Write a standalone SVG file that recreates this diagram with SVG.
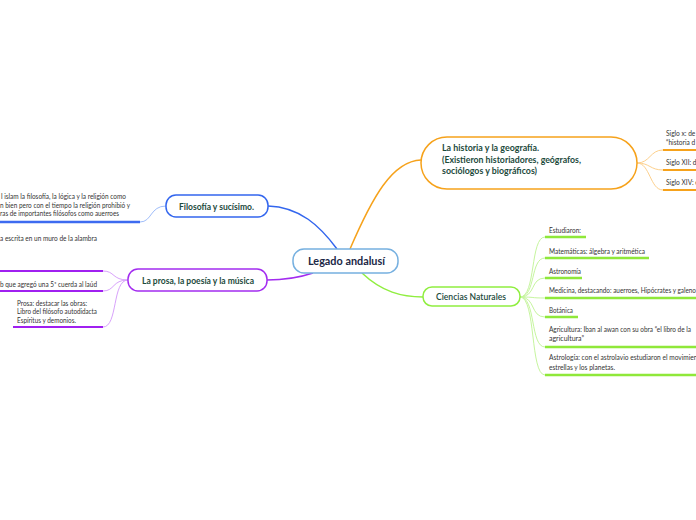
<svg xmlns="http://www.w3.org/2000/svg" width="696" height="520" viewBox="0 0 696 520">
<style>
text{font-family:Lato,"Noto Sans","DejaVu Sans",sans-serif}
.n{fill:#fff;stroke-width:1.5}
.t{font-size:10px;font-weight:700;fill:#1c4a3c}
.s{font-size:6.6px;fill:#333}
</style>
<rect width="696" height="520" fill="#fff"/>
<g id="connectors" fill="none">
<path d="M337,249 C320,226 300,207 268,206" stroke="#3366ee" stroke-width="1.5"/>
<path d="M350,249 C372,198 392,161 421,160" stroke="#f6a21b" stroke-width="1.5"/>
<path d="M313,273 C298,278 285,280 267,280" stroke="#a32cf0" stroke-width="1.5"/>
<path d="M362,273 C382,292 402,297 423,297" stroke="#90ee40" stroke-width="1.5"/>
<path d="M166,206 C150,206 152,222 140,222" stroke="#9fbdfa" stroke-width="1"/>
<path d="M0,222 H140" stroke="#3d6bf0" stroke-width="2.5"/>
<path d="M128,280 C112,280 115,271 103,271" stroke="#d8a2fb" stroke-width="1"/>
<path d="M128,280 C112,280 115,291 103,291" stroke="#d8a2fb" stroke-width="1"/>
<path d="M128,280 C112,280 118,327 103,327" stroke="#d8a2fb" stroke-width="1"/>
<path d="M0,271 H103 M0,291 H103 M13,327 H103" stroke="#a020f0" stroke-width="2"/>
<path d="M637,163 C650,163 650,150 663,150 M637,163 C650,163 650,170 663,170 M637,163 C650,163 650,190 663,190" stroke="#fdd08c" stroke-width="1"/>
<path d="M663,150 H696 M663,170 H696 M663,190 H696" stroke="#f6a21b" stroke-width="2"/>
<g stroke="#c6f59e" stroke-width="1">
<path d="M520,297 C536,297 530,237 545,237"/>
<path d="M520,297 C536,297 530,258 545,258"/>
<path d="M520,297 C536,297 530,278 545,278"/>
<path d="M520,297 C536,297 530,298 545,298"/>
<path d="M520,297 C536,297 530,317 545,317"/>
<path d="M520,297 C536,297 530,347 545,347"/>
<path d="M520,297 C536,297 530,375 545,375"/>
</g>
<path d="M545,237 H586 M545,258 H649 M545,278 H582 M545,298 H696 M545,317 H578 M545,347 H696 M545,375 H696" stroke="#8fe83a" stroke-width="2.5"/>
</g>
<g id="center">
<rect class="n" x="293" y="249" width="105" height="24" rx="11" stroke="#76b0e0"/>
<text x="308" y="265" font-size="11.5" font-weight="700" fill="#1a2746" textLength="77" lengthAdjust="spacingAndGlyphs">Legado andalusí</text>
</g>
<g id="filosofia">
<rect class="n" x="166" y="195" width="102" height="22" rx="10" stroke="#3366ee"/>
<text class="t" x="179" y="209.5" textLength="75" lengthAdjust="spacingAndGlyphs">Filosofía y sucísimo.</text>
</g>
<g id="filosofia-text">
<text class="s" x="1" y="199" textLength="125" lengthAdjust="spacingAndGlyphs">l islam la filosofía, la lógica y la religión como</text>
<text class="s" x="0" y="207.5" textLength="130" lengthAdjust="spacingAndGlyphs">n bien pero con el tiempo la religión prohibió y</text>
<text class="s" x="0" y="216" textLength="119" lengthAdjust="spacingAndGlyphs">ras de importantes filósofos como auerroes</text>
<text class="s" x="0" y="241" textLength="97" lengthAdjust="spacingAndGlyphs">a escrita en un muro de la alambra</text>
</g>
<g id="prosa">
<rect class="n" x="128" y="269" width="139" height="22" rx="10" stroke="#a32cf0"/>
<text class="t" x="142" y="283.5" textLength="112" lengthAdjust="spacingAndGlyphs">La prosa, la poesía y la música</text>
</g>
<g id="prosa-items">
<text class="s" x="0" y="286.5" textLength="97" lengthAdjust="spacingAndGlyphs">b que agregó una 5ª cuerda al laúd</text>
<text class="s" x="17" y="305.5" textLength="70" lengthAdjust="spacingAndGlyphs">Prosa: destacar las obras:</text>
<text class="s" x="17" y="314" textLength="80" lengthAdjust="spacingAndGlyphs">Libro del filósofo autodidacta</text>
<text class="s" x="17" y="322.5" textLength="59" lengthAdjust="spacingAndGlyphs">Espíritus y demonios.</text>
</g>
<g id="historia">
<rect class="n" x="421" y="137" width="216" height="52" rx="26" stroke="#f6a21b"/>
<text class="t" x="442" y="151" textLength="97" lengthAdjust="spacingAndGlyphs">La historia y la geografía.</text>
<text class="t" x="442" y="162.5" textLength="139" lengthAdjust="spacingAndGlyphs">(Existieron historiadores, geógrafos,</text>
<text class="t" x="442" y="174" textLength="95" lengthAdjust="spacingAndGlyphs">sociólogos y biográficos)</text>
</g>
<g id="historia-items">
<text class="s" x="666" y="136">Siglo x: de</text>
<text class="s" x="666" y="144.5">“historia d</text>
<text class="s" x="666" y="165">Siglo XII: de</text>
<text class="s" x="666" y="185">Siglo XIV:  e</text>
</g>
<g id="ciencias">
<rect class="n" x="423" y="287" width="97" height="19" rx="9" stroke="#90ee40"/>
<text x="436" y="300" font-size="9.5" font-weight="600" fill="#1c4a3c" textLength="70" lengthAdjust="spacingAndGlyphs">Ciencias Naturales</text>
</g>
<g id="ciencias-items">
<text class="s" x="549" y="233" textLength="32" lengthAdjust="spacingAndGlyphs">Estudiaron:</text>
<text class="s" x="549" y="253.5" textLength="96" lengthAdjust="spacingAndGlyphs">Matemáticas: álgebra y aritmética</text>
<text class="s" x="549" y="273.5" textLength="32" lengthAdjust="spacingAndGlyphs">Astronomía</text>
<text class="s" x="549" y="293" textLength="147" lengthAdjust="spacingAndGlyphs">Medicina, destacando: auerroes, Hipócrates y galeno</text>
<text class="s" x="549" y="312.5" textLength="24" lengthAdjust="spacingAndGlyphs">Botánica</text>
<text class="s" x="549" y="332" textLength="142" lengthAdjust="spacingAndGlyphs">Agricultura: Iban al awan con su obra “el libro de la</text>
<text class="s" x="549" y="341" textLength="35" lengthAdjust="spacingAndGlyphs">agricultura”</text>
<text class="s" x="549" y="360">Astrología: con el astrolavio estudiaron el movimiento</text>
<text class="s" x="549" y="369.5" textLength="66" lengthAdjust="spacingAndGlyphs">estrellas y los planetas.</text>
</g>
</svg>
